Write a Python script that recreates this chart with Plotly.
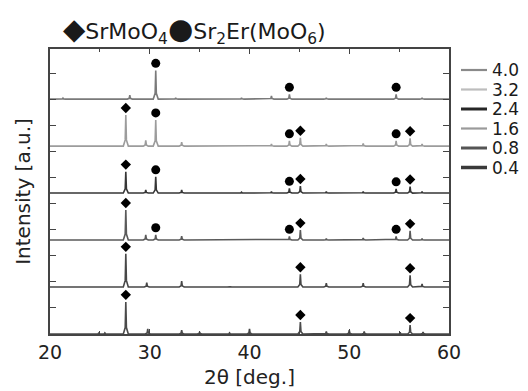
import plotly.graph_objects as go

# ---------------- data ----------------
labels = ["4.0", "3.2", "2.4", "1.6", "0.8", "0.4"]
offsets = [9.0, 7.2, 5.4, 3.6, 1.8, 0.0]

# peak positions (2theta, deg) and heights (a.u.) for each pattern
pos_40 = [21.3, 28.0, 30.6, 32.6, 39.2, 42.2, 44.0, 47.7, 54.7, 57.3]
h_40 = [0.04, 0.15, 1.10, 0.05, 0.05, 0.12, 0.18, 0.05, 0.18, 0.05]

pos_32 = [27.6, 29.6, 30.6, 33.2, 42.2, 44.0, 45.1, 47.7, 51.4, 54.7, 56.1, 57.3]
h_32 = [1.19, 0.22, 1.00, 0.15, 0.08, 0.20, 0.32, 0.08, 0.10, 0.20, 0.30, 0.08]

pos_24 = [27.6, 29.6, 30.6, 33.2, 39.2, 42.2, 44.0, 45.1, 47.7, 51.4, 54.7, 56.1, 57.3]
h_24 = [0.82, 0.12, 0.62, 0.12, 0.03, 0.05, 0.18, 0.27, 0.06, 0.06, 0.16, 0.25, 0.06]

pos_16 = [27.6, 29.6, 30.6, 33.2, 44.0, 45.1, 47.7, 51.4, 54.7, 56.1, 57.3]
h_16 = [1.15, 0.20, 0.20, 0.15, 0.14, 0.38, 0.06, 0.08, 0.14, 0.35, 0.06]

pos_08 = [27.6, 29.7, 33.2, 38.0, 45.1, 47.7, 51.4, 56.1, 57.3]
h_08 = [1.27, 0.17, 0.23, 0.03, 0.49, 0.15, 0.15, 0.45, 0.12]

pos_04 = [24.9, 25.5, 27.6, 29.8, 33.2, 35.0, 38.0, 40.0, 45.1, 47.7, 50.0, 51.5, 55.1, 56.1, 57.4]
h_04 = [0.05, 0.04, 1.23, 0.20, 0.15, 0.08, 0.04, 0.20, 0.46, 0.10, 0.15, 0.10, 0.06, 0.34, 0.08]

# phase markers: SrMoO4 (diamond) and Sr2Er(MoO6) (circle)
diamond_40 = []
circle_40 = [30.6, 44.0, 54.7]
diamond_32 = [27.6, 45.1, 56.1]
circle_32 = [30.6, 44.0, 54.7]
diamond_24 = [27.6, 45.1, 56.1]
circle_24 = [30.6, 44.0, 54.7]
diamond_16 = [27.6, 45.1, 56.1]
circle_16 = [30.6, 44.0, 54.7]
diamond_08 = [27.6, 45.1, 56.1]
circle_08 = []
diamond_04 = [27.6, 45.1, 56.1]
circle_04 = []

# ---------------- styling ----------------
curve_colors = ["#7a7a7a", "#9c9c9c", "#363636", "#5a5a5a", "#474747", "#4a4a4a"]
legend_colors = ["#8a8a8a", "#bdbdbd", "#262626", "#9a9a9a", "#555555", "#3a3a3a"]
legend_widths = [2.2, 2.2, 3, 2.2, 3, 3.5]
FONT = "DejaVu Sans"

series = [
    (pos_40, h_40, diamond_40, circle_40),
    (pos_32, h_32, diamond_32, circle_32),
    (pos_24, h_24, diamond_24, circle_24),
    (pos_16, h_16, diamond_16, circle_16),
    (pos_08, h_08, diamond_08, circle_08),
    (pos_04, h_04, diamond_04, circle_04),
]


def build_curve(pos, h, off):
    xs, ys = [20.0], [off]
    for p, hh in sorted(zip(pos, h)):
        w = 0.25
        xs += [p - w, p - 0.06, p, p + 0.06, p + w]
        ys += [off, off + 0.2 * hh, off + hh, off + 0.2 * hh, off]
    xs.append(60.0)
    ys.append(off)
    return xs, ys


GAP = 0.27
fig = go.Figure()
for i, (pos, h, dia, cir) in enumerate(series):
    off = offsets[i]
    xs, ys = build_curve(pos, h, off)
    fig.add_trace(go.Scatter(x=xs, y=ys, mode="lines",
                             line=dict(color=curve_colors[i], width=1.6),
                             showlegend=False, hoverinfo="skip"))
    lookup = dict(zip(pos, h))
    if dia:
        fig.add_trace(go.Scatter(x=dia, y=[off + lookup[p] + GAP for p in dia],
                                 mode="markers",
                                 marker=dict(symbol="diamond", size=8, color="black"),
                                 showlegend=False))
    if cir:
        fig.add_trace(go.Scatter(x=cir, y=[off + lookup[p] + GAP for p in cir],
                                 mode="markers",
                                 marker=dict(symbol="circle", size=9, color="black"),
                                 showlegend=False))

# manual legend on the right
L, T, B = 50, 49, 334
H = B - T
W = 399
legend_top_px = 70
legend_step_px = 19.5
shapes = []
annotations = []
for i, lab in enumerate(labels):
    ypx = legend_top_px + i * legend_step_px
    yp = (B - ypx) / H
    shapes.append(dict(type="line", xref="paper", yref="paper",
                       x0=(461 - L) / W, x1=(487 - L) / W, y0=yp, y1=yp,
                       line=dict(color=legend_colors[i], width=legend_widths[i])))
    annotations.append(dict(xref="paper", yref="paper", x=(490 - L) / W, y=yp,
                            xanchor="left", yanchor="middle", showarrow=False,
                            text=lab, font=dict(family=FONT, size=17, color="#1a1a1a")))

annotations.append(dict(
    xref="paper", yref="paper", x=(61 - L) / W, y=1 + (49 - 30) / H,
    xanchor="left", yanchor="middle", showarrow=False,
    text=('<span style="font-size:29px">◆</span>SrMoO<sub>4</sub>'
          '<span style="font-size:29px">●</span>Sr<sub>2</sub>Er(MoO<sub>6</sub>)'),
    font=dict(family=FONT, size=22, color="#1a1a1a")))

fig.update_layout(
    width=528, height=391,
    margin=dict(l=L, r=528 - L - W, t=T, b=391 - B, autoexpand=False),
    paper_bgcolor="white", plot_bgcolor="white",
    showlegend=False,
    shapes=shapes, annotations=annotations,
    font=dict(family=FONT, color="#222222"),
)
fig.update_xaxes(
    range=[20, 60], dtick=10, tick0=20,
    ticks="inside", ticklen=5, tickwidth=1.3, tickcolor="#444",
    minor=dict(dtick=5, ticks="inside", ticklen=3, tickcolor="#444"),
    showline=True, linecolor="#444", linewidth=1.6, mirror="ticks",
    showgrid=False, zeroline=False,
    tickfont=dict(family=FONT, size=19, color="#222"),
    title=dict(text="2θ [deg.]", font=dict(family=FONT, size=20, color="#222"), standoff=8),
    automargin=False,
)
fig.update_yaxes(
    range=[0, 10.92], dtick=1, tick0=0,
    ticks="inside", ticklen=6, tickwidth=1.3, tickcolor="#444",
    showticklabels=False,
    showline=True, linecolor="#444", linewidth=1.6, mirror="ticks",
    showgrid=False, zeroline=False,
    title=dict(text="Intensity [a.u.]", font=dict(family=FONT, size=20, color="#222"), standoff=12),
    automargin=False,
)

fig.write_html("out.html",
               config={"displayModeBar": False},
               post_script="document.body.style.margin='0';document.body.style.overflow='hidden';")
